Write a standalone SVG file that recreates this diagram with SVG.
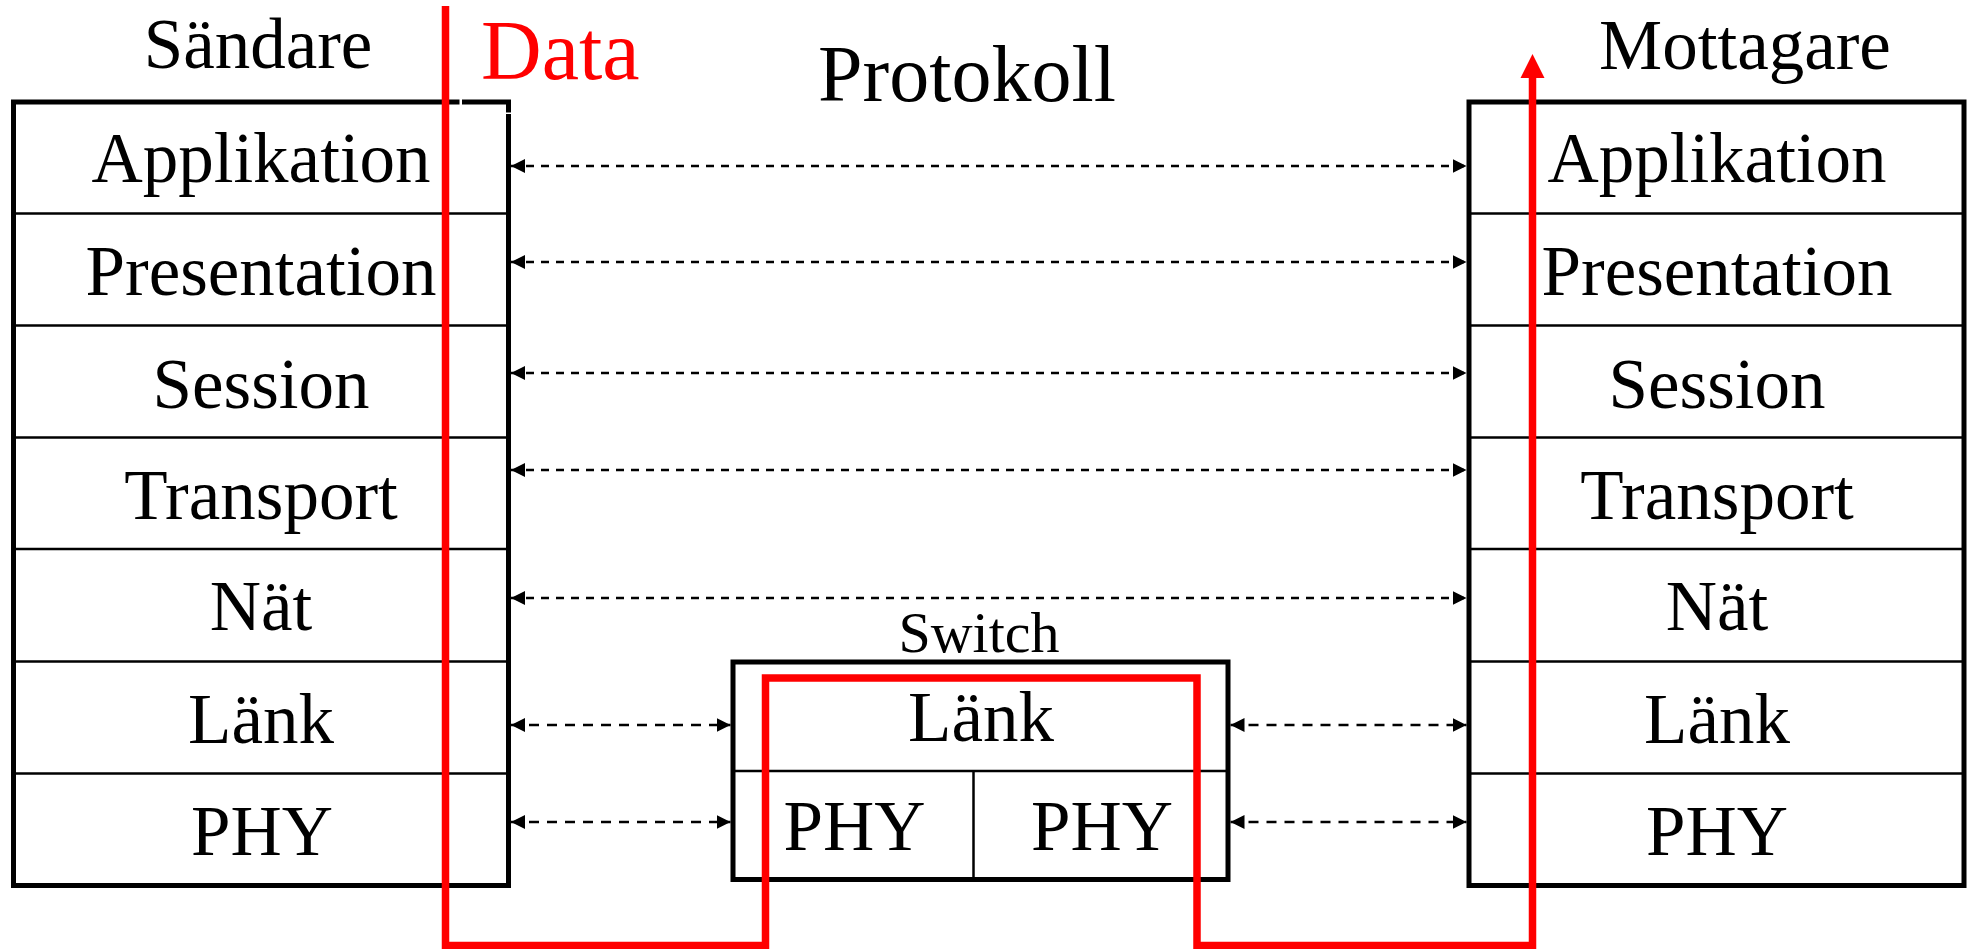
<svg xmlns="http://www.w3.org/2000/svg" width="1968" height="949" viewBox="0 0 1968 949">
<defs>
<style>
.box{fill:none;stroke:#000;stroke-width:5}
.row{stroke:#000;stroke-width:2.5}
.t{font-family:"Liberation Serif","Times New Roman",serif;font-size:71px;fill:#000;text-anchor:middle}
.con{stroke:#000;stroke-width:2.5;fill:none;marker-start:url(#ah);marker-end:url(#ah)}
.long{stroke-dasharray:8 7}
.short{stroke-dasharray:10 8}
.red{fill:none;stroke:#ff0000;stroke-width:7.5;stroke-linejoin:miter}
</style>
<marker id="ah" markerUnits="userSpaceOnUse" markerWidth="14" markerHeight="14" refX="14" refY="7" orient="auto-start-reverse">
<path d="M0,0 L14,7 L0,14 z" fill="#000"/>
</marker>
</defs>
<rect width="1968" height="949" fill="#fff"/>

<g id="sandare">
<rect class="box" x="13.5" y="102" width="495" height="783.5"/>
<line class="row" x1="13.5" y1="213.5" x2="508.5" y2="213.5"/>
<line class="row" x1="13.5" y1="325.5" x2="508.5" y2="325.5"/>
<line class="row" x1="13.5" y1="437.5" x2="508.5" y2="437.5"/>
<line class="row" x1="13.5" y1="549" x2="508.5" y2="549"/>
<line class="row" x1="13.5" y1="661.5" x2="508.5" y2="661.5"/>
<line class="row" x1="13.5" y1="773.5" x2="508.5" y2="773.5"/>
<rect x="459.5" y="98" width="2.5" height="8" fill="#fff"/>
<rect x="505" y="112.5" width="7" height="1.5" fill="#fff"/>
<text class="t" x="258" y="68">Sändare</text>
<text class="t" x="261" y="182">Applikation</text>
<text class="t" x="261" y="295">Presentation</text>
<text class="t" x="261" y="408">Session</text>
<text class="t" x="261" y="519">Transport</text>
<text class="t" x="261" y="630">Nät</text>
<text class="t" x="261" y="743">Länk</text>
<text class="t" x="262" y="855">PHY</text>
</g>

<g id="mottagare">
<rect class="box" x="1469" y="102" width="495" height="783.5"/>
<line class="row" x1="1469" y1="213.5" x2="1964" y2="213.5"/>
<line class="row" x1="1469" y1="325.5" x2="1964" y2="325.5"/>
<line class="row" x1="1469" y1="437.5" x2="1964" y2="437.5"/>
<line class="row" x1="1469" y1="549" x2="1964" y2="549"/>
<line class="row" x1="1469" y1="661.5" x2="1964" y2="661.5"/>
<line class="row" x1="1469" y1="773.5" x2="1964" y2="773.5"/>
<text class="t" x="1745" y="69">Mottagare</text>
<text class="t" x="1717" y="182">Applikation</text>
<text class="t" x="1717" y="295">Presentation</text>
<text class="t" x="1717" y="408">Session</text>
<text class="t" x="1717" y="519">Transport</text>
<text class="t" x="1717" y="630">Nät</text>
<text class="t" x="1717" y="743">Länk</text>
<text class="t" x="1717" y="855">PHY</text>
</g>

<g id="switch">
<rect class="box" x="733" y="662" width="495" height="217.5"/>
<line class="row" x1="733" y1="771" x2="1228" y2="771"/>
<line class="row" x1="973.5" y1="771" x2="973.5" y2="879.5"/>
<text class="t" x="979" y="652" style="font-size:58px">Switch</text>
<text class="t" x="981" y="741">Länk</text>
<text class="t" x="854.5" y="850">PHY</text>
<text class="t" x="1102" y="850">PHY</text>
</g>

<g id="protokoll">
<text class="t" x="967" y="101" style="font-size:80px">Protokoll</text>
</g>

<g id="connectors">
<line class="con long" x1="511" y1="166" x2="1466.5" y2="166"/>
<line class="con long" x1="511" y1="262" x2="1466.5" y2="262"/>
<line class="con long" x1="511" y1="373" x2="1466.5" y2="373"/>
<line class="con long" x1="511" y1="470" x2="1466.5" y2="470"/>
<line class="con long" x1="511" y1="598" x2="1466.5" y2="598"/>
<line class="con short" x1="511" y1="725" x2="730.5" y2="725"/>
<line class="con short" x1="511" y1="822" x2="730.5" y2="822"/>
<line class="con short" x1="1230.5" y1="725" x2="1466.5" y2="725"/>
<line class="con short" x1="1230.5" y1="822" x2="1466.5" y2="822"/>
</g>

<g id="data-path">
<path class="red" d="M445.5,6 V945.5 H765.5 V678 H1197 V945.5 H1532.5 V76"/>
<polygon points="1532.5,54 1520.5,78 1544.5,78" fill="#ff0000"/>
<text x="481" y="79" style="font-family:'Liberation Serif','Times New Roman',serif;font-size:84px;fill:#ff0000">Data</text>
</g>
</svg>
